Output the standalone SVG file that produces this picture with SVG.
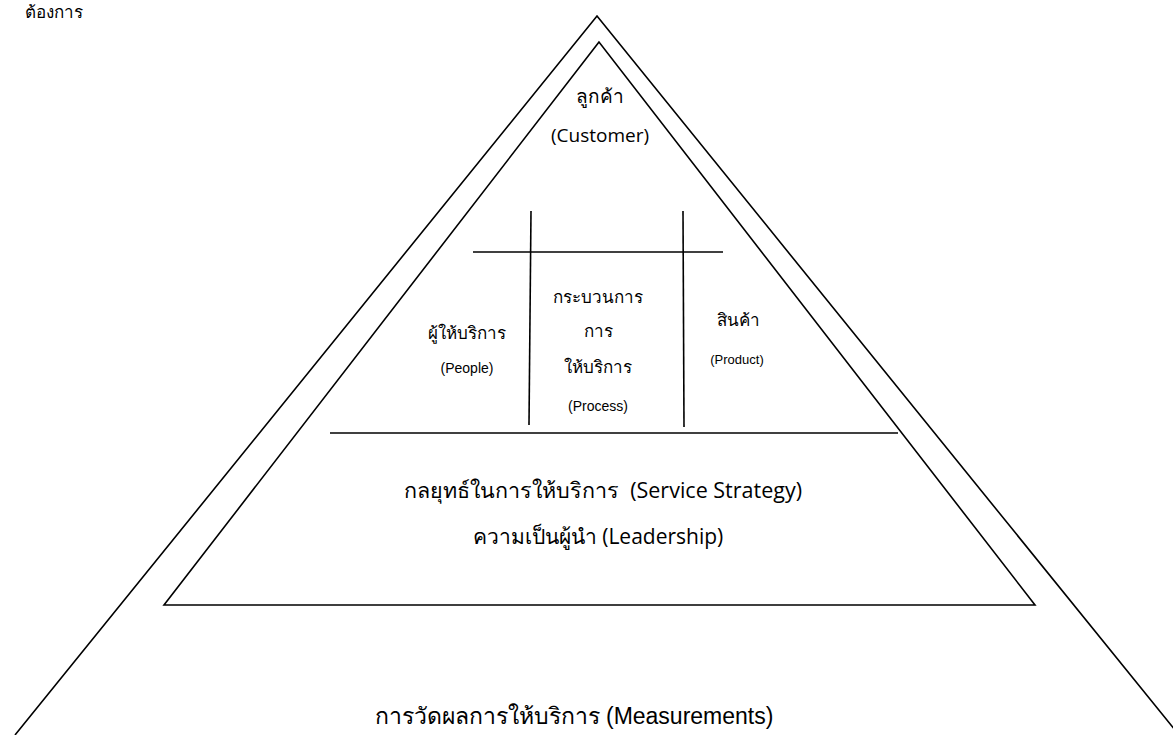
<svg xmlns="http://www.w3.org/2000/svg" width="1173" height="735" viewBox="0 0 1173 735">
<style>
.ln{fill:none;stroke:#000;stroke-width:1.6}
.t{font-family:"Liberation Sans","Noto Sans",sans-serif;fill:#000;text-anchor:middle}
.s{font-family:"Open Sans","Noto Sans",sans-serif;fill:#000;text-anchor:middle}
</style>
<rect width="1173" height="735" fill="#fff"/>
<text class="s" x="54" y="18" font-size="17">ต้องการ</text>
<g id="connectors">
<polyline class="ln" points="15,735 597,16 1179,735"/>
<polygon class="ln" points="599,42 164,605 1035,605"/>
<line class="ln" x1="330" y1="433" x2="898" y2="433"/>
<line class="ln" x1="473" y1="252" x2="723" y2="252"/>
<line class="ln" x1="531" y1="211" x2="529" y2="425"/>
<line class="ln" x1="683" y1="211" x2="684" y2="427"/>
</g>
<g id="customer">
<text class="s" x="600" y="103" font-size="19">ลูกค้า</text>
<text class="s" x="600" y="142" font-size="19">(Customer)</text>
</g>
<g id="people">
<text class="t" x="467" y="339" font-size="17">ผู้ให้บริการ</text>
<text class="t" x="467" y="373" font-size="14">(People)</text>
</g>
<g id="process">
<text class="t" x="598" y="303" font-size="17">กระบวนการ</text>
<text class="t" x="598" y="337" font-size="17">การ</text>
<text class="t" x="598" y="373" font-size="17">ให้บริการ</text>
<text class="t" x="598" y="411" font-size="14">(Process)</text>
</g>
<g id="product">
<text class="t" x="738" y="326" font-size="17">สินค้า</text>
<text class="t" x="737" y="364" font-size="13">(Product)</text>
</g>
<g id="strategy">
<text class="s" x="603" y="498" font-size="21.5" xml:space="preserve">กลยุทธ์ในการให้บริการ  (Service Strategy)</text>
<text class="s" x="598" y="544" font-size="21">ความเป็นผู้นำ (Leadership)</text>
</g>
<g id="measurements">
<text class="t" x="574" y="724" font-size="23">การวัดผลการให้บริการ (Measurements)</text>
</g>
</svg>
